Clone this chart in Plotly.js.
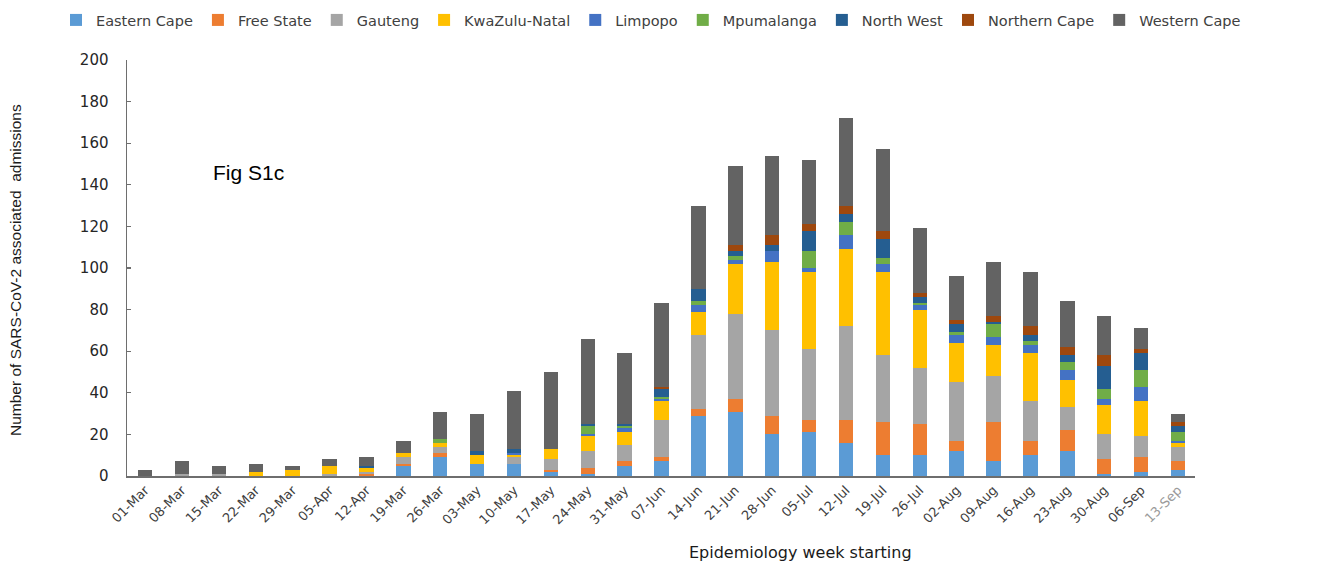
<!DOCTYPE html>
<html>
<head>
<meta charset="utf-8">
<script src="https://cdn.plot.ly/plotly-3.0.1.min.js"></script>
<style>html,body{margin:0;padding:0;background:#fff;}#chart{width:1317px;height:563px;}</style>
</head>
<body>
<div id="chart"></div>
<script>
const weeks = ["01-Mar","08-Mar","15-Mar","22-Mar","29-Mar","05-Apr","12-Apr","19-Mar","26-Mar","03-May","10-May","17-May","24-May","31-May","07-Jun","14-Jun","21-Jun","28-Jun","05-Jul","12-Jul","19-Jul","26-Jul","02-Aug","09-Aug","16-Aug","23-Aug","30-Aug","06-Sep","13-Sep"];
const tickLabels = ["01-Mar","08-Mar","15-Mar","22-Mar","29-Mar","05-Apr","12-Apr","19-Mar","26-Mar","03-May","10-May","17-May","24-May","31-May","07-Jun","14-Jun","21-Jun","28-Jun","05-Jul","12-Jul","19-Jul","26-Jul","02-Aug","09-Aug","16-Aug","23-Aug","30-Aug","06-Sep","<span style=\"fill:#9a9a9a\">13-Sep</span>"];

const easternCape  = [0,0,0,0,0,0,0,5,9,6,6,2,1,5,7,29,31,20,21,16,10,10,12,7,10,12,1,2,3];
const freeState    = [0,0,0,0,0,0,1,1,2,0,0,1,3,2,2,3,6,9,6,11,16,15,5,19,7,10,7,7,4];
const gauteng      = [0,1,1,0,0,1,1,3,3,0,3,5,8,8,18,36,41,41,34,45,32,27,28,22,19,11,12,10,7];
const kwazuluNatal = [0,0,0,2,3,4,2,2,2,4,1,5,7,6,9,11,24,33,37,37,40,28,19,15,23,13,14,17,2];
const limpopo      = [0,0,0,0,0,0,0,0,0,0,1,0,1,2,1,3,2,5,2,7,4,2,4,4,4,5,3,7,1];
const mpumalanga   = [0,0,0,0,0,0,0,0,2,0,0,0,4,1,1,2,2,0,8,6,3,1,1,6,2,4,5,8,4];
const northWest    = [0,0,0,0,0,0,1,0,0,2,2,0,1,1,4,6,2,3,10,4,9,3,4,1,3,3,11,8,3];
const northernCape = [0,0,0,0,0,0,0,0,0,0,0,0,0,0,1,0,3,5,3,4,4,2,2,3,4,4,5,2,2];
const westernCape  = [3,6,4,4,2,3,4,6,13,18,28,37,41,34,40,40,38,38,31,42,39,31,21,26,26,22,19,10,4];

const provinces = ["Eastern Cape","Free State","Gauteng","KwaZulu-Natal","Limpopo","Mpumalanga","North West","Northern Cape","Western Cape"];
const seriesValues = [easternCape,freeState,gauteng,kwazuluNatal,limpopo,mpumalanga,northWest,northernCape,westernCape];
const colors = ["#5B9BD5","#ED7D31","#A5A5A5","#FFC000","#4472C4","#70AD47","#255E91","#9E480E","#636363"];

const plotL = 127, plotR = 1195, plotT = 60, plotB = 476;
const pw = plotR - plotL, ph = plotB - plotT;
const px = v => (v - plotL) / pw;
const py = v => (plotB - v) / ph;

const traces = provinces.map((name, i) => ({
  type: "bar",
  name: name,
  x: weeks,
  y: seriesValues[i],
  marker: {color: colors[i], line: {width: 0}},
  hoverinfo: "x+y+name"
}));

const layout = {
  width: 1317, height: 563,
  margin: {l: plotL, r: 1317 - plotR, t: plotT, b: 563 - plotB, pad: 0, autoexpand: false},
  paper_bgcolor: "#fff", plot_bgcolor: "#fff",
  barmode: "stack",
  bargap: 0.61,
  showlegend: true,
  legend: {
    orientation: "h", xref: "paper", yref: "paper",
    x: px(56), xanchor: "left", y: py(20), yanchor: "middle",
    font: {family: "DejaVu Sans", size: 14.5, color: "#404040"},
    itemwidth: 30, tracegroupgap: 0, traceorder: "normal"
  },
  xaxis: {
    type: "category",
    range: [-0.49, 28.46],
    tickmode: "array", tickvals: weeks, ticktext: tickLabels,
    tickangle: -45,
    tickfont: {family: "DejaVu Sans", size: 13, color: "#404040"},
    showline: true, linecolor: "#6e6e6e", linewidth: 1.5,
    ticks: "", showgrid: false, zeroline: false, fixedrange: true
  },
  yaxis: {
    range: [0, 200],
    tickmode: "array", tickvals: [0,20,40,60,80,100,120,140,160,180,200],
    tickfont: {family: "DejaVu Sans", size: 15, color: "#262626"},
    showline: true, linecolor: "#6e6e6e", linewidth: 1.5,
    ticks: "inside", ticklen: 4, tickcolor: "#6e6e6e", tickwidth: 1.2,
    ticklabelstandoff: 14,
    showgrid: false, zeroline: false, fixedrange: true
  },
  annotations: [
    {text: "Number of SARS-CoV-2 associated  admissions", xref: "paper", yref: "paper",
     x: px(15), y: py(270), xanchor: "center", yanchor: "middle", textangle: -90, showarrow: false,
     font: {family: "Liberation Sans", size: 15.5, color: "#1a1a1a"}},
    {text: "Epidemiology week starting", xref: "paper", yref: "paper",
     x: px(800), y: py(552), xanchor: "center", yanchor: "middle", showarrow: false,
     font: {family: "DejaVu Sans", size: 16, color: "#1a1a1a"}},
    {text: "Fig S1c", xref: "paper", yref: "paper",
     x: px(211), y: py(172), xanchor: "left", yanchor: "middle", showarrow: false,
     font: {family: "Liberation Sans", size: 21, color: "#000"}}
  ]
};

Plotly.newPlot("chart", traces, layout, {displayModeBar: false, staticPlot: true});
</script>
</body>
</html>
